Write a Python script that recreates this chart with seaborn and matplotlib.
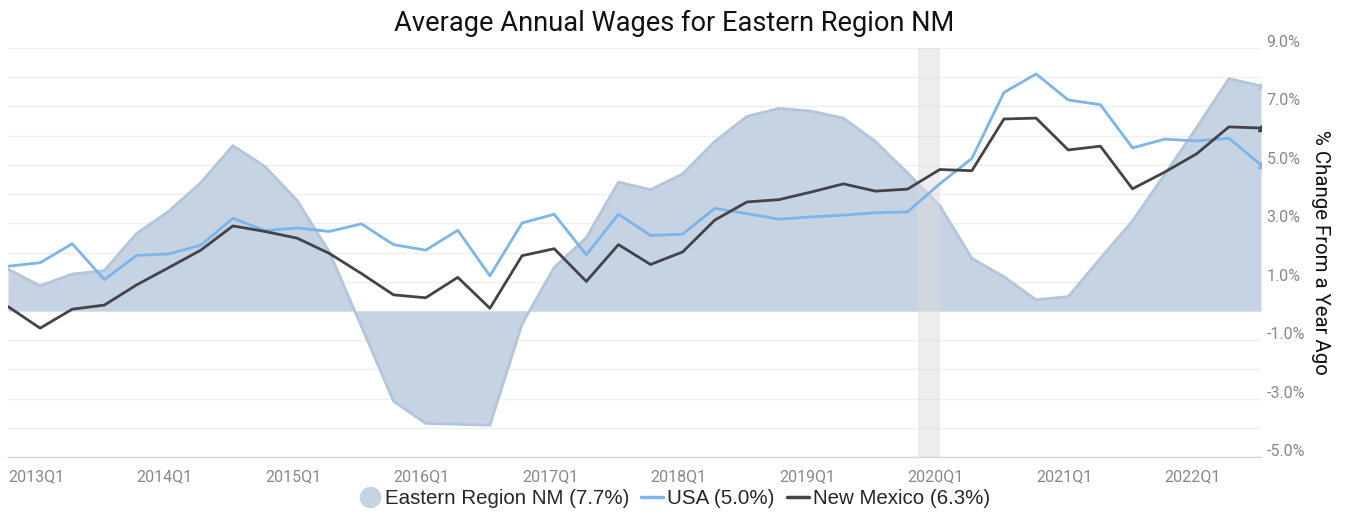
import pandas as pd
import seaborn as sns
import matplotlib
matplotlib.use('Agg')
import matplotlib.pyplot as plt
from matplotlib.lines import Line2D
from matplotlib.transforms import ScaledTranslation

# quarterly % change from a year ago, 2013Q1 .. 2022Q4
quarters = [f'{y}Q{q}' for y in range(2013, 2023) for q in range(1, 5)]
eastern = [1.43, 0.86, 1.26, 1.38, 2.65, 3.41, 4.39, 5.66, 4.94, 3.78,
           2.02, -0.53, -3.09, -3.85, -3.88, -3.91, -0.45, 1.49, 2.51, 4.41,
           4.15, 4.69, 5.80, 6.66, 6.93, 6.84, 6.60, 5.80, 4.72, 3.61,
           1.80, 1.17, 0.38, 0.49, 1.80, 3.08, 4.67, 6.28, 7.95, 7.70]
usa = [1.53, 1.65, 2.30, 1.07, 1.90, 1.95, 2.25, 3.17, 2.75, 2.84,
       2.72, 2.98, 2.27, 2.08, 2.76, 1.20, 3.01, 3.31, 1.92, 3.31,
       2.58, 2.63, 3.51, 3.33, 3.14, 3.22, 3.28, 3.36, 3.39, 4.35,
       5.22, 7.48, 8.11, 7.22, 7.06, 5.58, 5.88, 5.82, 5.91, 5.00]
new_mexico = [0.15, -0.59, 0.06, 0.20, 0.89, 1.48, 2.08, 2.91, 2.72, 2.49,
              1.97, 1.28, 0.55, 0.45, 1.15, 0.09, 1.89, 2.13, 1.01, 2.27,
              1.59, 2.02, 3.11, 3.73, 3.81, 4.07, 4.35, 4.10, 4.17, 4.84,
              4.80, 6.57, 6.60, 5.51, 5.64, 4.18, 4.75, 5.38, 6.30, 6.26]
# recession band, in quarter units (Feb 2020 - Apr 2020)
recession = (28.33, 29.0)

df = pd.DataFrame({'q': quarters, 'idx': range(len(quarters)),
                   'Eastern': eastern, 'USA': usa, 'NM': new_mexico})

sns.set_style('white')
plt.rcParams['font.family'] = ['Roboto', 'DejaVu Sans']

fill_c = '#c5d3e3'
edge_c = '#b3c5db'
blue = '#7cb5ec'
dark = '#434348'

fig = plt.figure(figsize=(13.49, 5.16), dpi=100)
ax = fig.add_axes([8 / 1349, 59 / 516, 1253 / 1349, 409 / 516])

ax.fill_between(df['idx'], df['Eastern'], 0, color=fill_c, lw=0, zorder=1)
ax.plot(df['idx'], df['Eastern'], color=edge_c, lw=2, zorder=1.5)
ax.axvspan(*recession, color='#dcdcdc', alpha=0.5, lw=0, zorder=2)
sns.lineplot(data=df, x='idx', y='USA', color=blue, lw=2, ax=ax, zorder=3)
sns.lineplot(data=df, x='idx', y='NM', color=dark, lw=2, ax=ax, zorder=4)
# small end markers
last = df.iloc[-1]
ax.plot(last['idx'], last['Eastern'], marker='^', ms=5, color=edge_c, zorder=1.6)
ax.plot(last['idx'], last['USA'], marker='^', ms=5, color=blue, zorder=3.1)
ax.plot(last['idx'], last['NM'], marker='^', ms=5, color=dark, zorder=4.1)

ax.set_xlim(0, len(quarters) - 1)
ax.set_ylim(-5, 9)

# y axis on the right
ax.yaxis.tick_right()
ax.yaxis.set_label_position('right')
ax.set_yticks(range(-5, 10, 2))
ax.set_yticks(range(-5, 10), minor=True)
ax.set_yticklabels([f'{v:.1f}%' for v in range(-5, 10, 2)])
ax.tick_params(axis='y', which='both', length=0, pad=4, labelsize=11.5, labelcolor='#888888')
ax.grid(axis='y', which='both', color='#efefef', lw=1)
ax.set_axisbelow(True)
for lab in ax.get_yticklabels():
    lab.set_transform(lab.get_transform() + ScaledTranslation(0, 7 / 100, fig.dpi_scale_trans))
ax.set_ylabel('% Change From a Year Ago', rotation=270, fontsize=14.7, color='#111111', labelpad=18)

# x axis
xt = list(range(0, len(quarters), 4))
ax.set_xticks(xt)
ax.set_xticklabels([quarters[i] for i in xt], ha='left')
ax.tick_params(axis='x', length=7, width=1, color='#ccd6eb', pad=2, labelsize=11.5, labelcolor='#888888')
ax.set_xlabel('')

for s in ['top', 'left', 'right']:
    ax.spines[s].set_visible(False)
ax.spines['bottom'].set_color('#ccd6eb')
ax.spines['bottom'].set_linewidth(1)

fig.text(0.5, 1 - 23 / 516, 'Average Annual Wages for Eastern Region NM',
         ha='center', va='center', fontsize=19.6, color='#111111')

handles = [Line2D([], [], marker='o', ls='none', ms=14.5, color=fill_c),
           Line2D([], [], color=blue, lw=2.5),
           Line2D([], [], color=dark, lw=2.5)]
labels = ['Eastern Region NM (7.7%)', 'USA (5.0%)', 'New Mexico (6.3%)']
fig.legend(handles, labels, loc='center', bbox_to_anchor=(0.5, 1 - 499 / 516),
           ncol=3, frameon=False, handlelength=1.07, handletextpad=0.2,
           columnspacing=0.58,
           prop={'family': ['Liberation Sans', 'DejaVu Sans'], 'size': 14.8})

fig.savefig('out.png', dpi=100)
